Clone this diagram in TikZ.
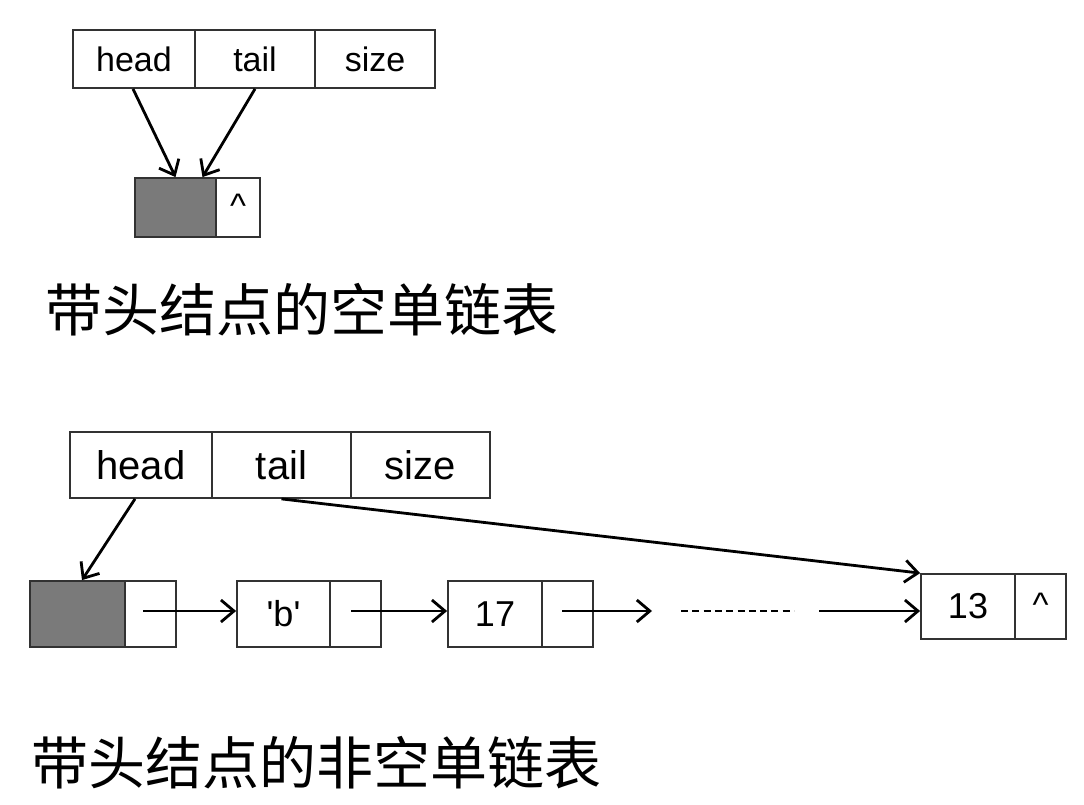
\documentclass[tikz,border=0pt]{standalone}
\usepackage{fontspec}
\setmainfont{Liberation Sans}
\newfontfamily\cjk{Noto Sans CJK SC}
\usetikzlibrary{arrows.meta}
\definecolor{cellline}{RGB}{50,50,50}
\definecolor{headfill}{RGB}{122,122,122}
\tikzset{
  cell/.style={draw=cellline, line width=1.8pt, inner sep=0pt, fill=white},
  topfont/.style={font=\fontsize{34}{34}\selectfont},
  botfont/.style={font=\fontsize{40}{40}\selectfont},
  valfont/.style={font=\fontsize{36}{36}\selectfont},
  caretfont/.style={font=\fontsize{34}{34}\selectfont},
  headcell/.style={cell, fill=headfill},
  ptr/.style={line width=2.8pt, -{Straight Barb[length=13pt,width=22pt,line width=2.8pt]}},
  caption/.style={anchor=west, inner sep=0pt, font=\cjk\fontsize{57}{57}\selectfont}
}
\begin{document}
\begin{tikzpicture}[x=1pt,y=-1pt]
\useasboundingbox (0,0) rectangle (1084,805);
% ---------- top: empty list ----------
\node[cell, topfont, minimum width=122pt, minimum height=58pt] (h1) at (134,59) {head};
\node[cell, topfont, minimum width=120pt, minimum height=58pt] (t1) at (255,59) {tail};
\node[cell, topfont, minimum width=120pt, minimum height=58pt] (s1) at (375,59) {size};
\node[headcell, minimum width=81pt, minimum height=59pt] (g1) at (175.5,207.5) {};
\node[cell, caretfont, minimum width=44pt, minimum height=59pt, text depth=4pt] (n1) at (238,207.5) {\^{}};
\draw[ptr] ([xshift=-1pt]h1.south) -- (g1.north);
\draw[ptr] (t1.south) -- ([xshift=27pt]g1.north);
\node[caption] (c1) at (45,310) {带头结点的空单链表};
% ---------- bottom: non-empty list ----------
\node[cell, botfont, minimum width=142pt, minimum height=66pt] (h2) at (141,465) {head};
\node[cell, botfont, minimum width=139pt, minimum height=66pt] (t2) at (281.5,465) {tail};
\node[cell, botfont, minimum width=139pt, minimum height=66pt] (s2) at (420.5,465) {size};
\node[headcell, minimum width=95pt, minimum height=66pt] (g2) at (77.5,614) {};
\node[cell, minimum width=51pt, minimum height=66pt] (p2) at (150.5,614) {};
\node[cell, valfont, minimum width=93pt, minimum height=66pt] (b) at (283.5,614) {\textquotesingle b\textquotesingle};
\node[cell, minimum width=51pt, minimum height=66pt] (p3) at (355.5,614) {};
\node[cell, valfont, minimum width=94pt, minimum height=66pt] (n17) at (495,614) {17};
\node[cell, minimum width=51pt, minimum height=66pt] (p4) at (567.5,614) {};
\node[cell, valfont, minimum width=94pt, minimum height=65pt] (n13) at (968,606.5) {13};
\node[cell, caretfont, minimum width=51pt, minimum height=65pt, text depth=4pt] (p5) at (1040.5,606.5) {\^{}};
\coordinate (d1) at (652,611);
\coordinate (d2) at (681,611);
\coordinate (d3) at (794,611);
\coordinate (d4) at (819,611);
\draw[ptr] ([xshift=-7.5pt,yshift=3pt]p2.center) -- ([yshift=3pt]b.west);
\draw[ptr] ([xshift=-4.5pt,yshift=3pt]p3.center) -- ([yshift=3pt]n17.west);
\draw[ptr] ([xshift=-5.5pt,yshift=3pt]p4.center) -- (d1);
\draw[line width=2.6pt, dash pattern=on 7pt off 4.3pt] (d2) -- (d3);
\draw[ptr] (d4) -- ([yshift=-4.5pt]n13.west);
\draw[ptr] ([xshift=-6pt]h2.south) -- ([xshift=4.5pt]g2.north);
\draw[ptr] (t2.south) -- (n13.north west);
\node[caption] (c2) at (31,763) {带头结点的非空单链表};
\end{tikzpicture}
\end{document}
